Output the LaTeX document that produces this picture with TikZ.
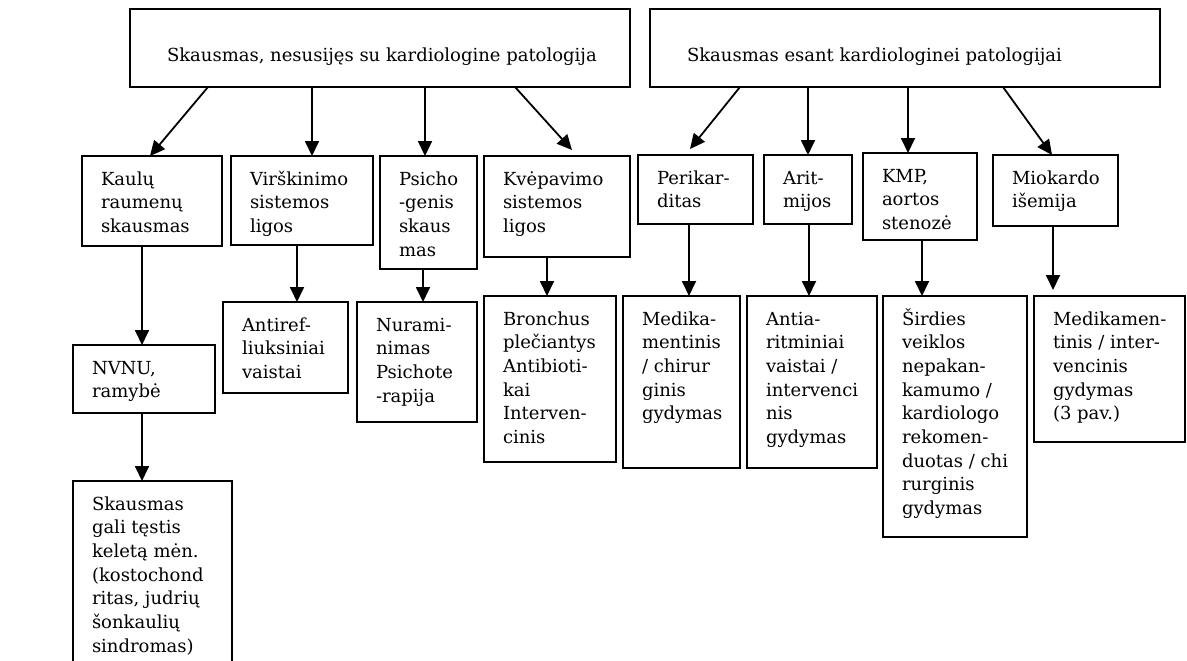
\documentclass[tikz,border=0pt]{standalone}
\usepackage{fontspec}
\setmainfont{DejaVu Serif}
\usetikzlibrary{arrows.meta}
\newcommand\bx[3]{\parbox[t][#2pt][t]{#1pt}{\raggedright\leftskip=19pt\rule{0pt}{29pt}#3}}
\newcommand\topbx[3]{\parbox[t][#2pt][t]{#1pt}{\raggedright\leftskip=37pt\rule{0pt}{53pt}#3}}
\begin{document}
\begin{tikzpicture}[x=1pt,y=-1pt,
  box/.style={draw, line width=1.8pt, inner sep=0pt, outer sep=0pt, anchor=north west,
    font=\fontsize{18}{23.7}\selectfont},
  arr/.style={line width=1.8pt, -{Triangle[length=15pt,width=14pt]}}]
\path[use as bounding box] (0,0) rectangle (1187,661);
\clip (0,0) rectangle (1187,661);
% top level
\node[box] (t1) at (130,9) {\topbx{500}{78}{Skausmas, nesusijęs su kardiologine patologija}};
\node[box] (t2) at (650,9) {\topbx{510}{78}{Skausmas esant kardiologinei patologijai}};
% second level
\node[box] (kaul) at (82,156) {\bx{140}{90}{Kaulų\\raumenų\\skausmas}};
\node[box] (virs) at (231,156) {\bx{142}{89}{Virškinimo\\sistemos\\ligos}};
\node[box] (psi) at (380,156) {\bx{97}{113}{Psicho\\-genis\\skaus\\mas}};
\node[box] (kvep) at (484,156) {\bx{146}{101}{Kvėpavimo\\sistemos\\ligos}};
\node[box] (peri) at (638,155) {\bx{115}{69}{Perikar-\\ditas}};
\node[box] (arit) at (764,155) {\bx{88}{69}{Arit-\\mijos}};
\node[box] (kmp) at (863,153) {\bx{114}{87}{KMP,\\aortos\\stenozė}};
\node[box] (miok) at (993,155) {\bx{125}{71}{Miokardo\\išemija}};
% third level
\node[box] (nvnu) at (73,345) {\bx{142}{68}{NVNU,\\ramybė}};
\node[box] (antir) at (223,302) {\bx{125}{91}{Antiref-\\liuksiniai\\vaistai}};
\node[box] (nuram) at (357,302) {\bx{120}{120}{Nurami-\\nimas\\Psichote\\-rapija}};
\node[box] (bron) at (484,296) {\bx{132}{166}{Bronchus\\plečiantys\\Antibioti-\\kai\\Interven-\\cinis}};
\node[box] (medch) at (623,296) {\bx{117}{172}{Medika-\\mentinis\\/ chirur\\ginis\\gydymas}};
\node[box] (antia) at (747,296) {\bx{130}{172}{Antia-\\ritminiai\\vaistai /\\intervenci\\nis\\gydymas}};
\node[box] (sird) at (883,296) {\bx{144}{241}{Širdies\\veiklos\\nepakan-\\kamumo /\\kardiologo\\rekomen-\\duotas / chi\\rurginis\\gydymas}};
\node[box] (medint) at (1034,296) {\bx{151}{146}{Medikamen-\\tinis / inter-\\vencinis\\gydymas\\(3 pav.)}};
% fourth level
\node[box] (skaus) at (73,481) {\bx{159}{200}{Skausmas\\gali tęstis\\keletą mėn.\\(kostochond\\ritas, judrių\\šonkaulių\\sindromas)}};
% connectors
\draw[arr] ([xshift=78pt]t1.south west) -- ([xshift=68pt]kaul.north west);
\draw[arr] ([xshift=182pt]t1.south west) -- ([xshift=81pt]virs.north west);
\draw[arr] ([xshift=295pt]t1.south west) -- ([xshift=45pt]psi.north west);
\draw[arr] ([xshift=385pt]t1.south west) -- ([xshift=88pt,yshift=6pt]kvep.north west);
\draw[arr] ([xshift=90pt]t2.south west) -- ([xshift=52pt,yshift=6pt]peri.north west);
\draw[arr] ([xshift=158pt]t2.south west) -- ([xshift=44pt]arit.north west);
\draw[arr] ([xshift=258pt]t2.south west) -- ([xshift=45pt]kmp.north west);
\draw[arr] ([xshift=353pt]t2.south west) -- ([xshift=59pt]miok.north west);
\draw[arr] ([xshift=60pt]kaul.south west) -- ([xshift=69pt]nvnu.north west);
\draw[arr] ([xshift=66pt]virs.south west) -- ([xshift=74pt]antir.north west);
\draw[arr] ([xshift=43pt]psi.south west) -- ([xshift=66pt]nuram.north west);
\draw[arr] ([xshift=63pt]kvep.south west) -- ([xshift=63pt]bron.north west);
\draw[arr] ([xshift=51pt]peri.south west) -- ([xshift=66pt]medch.north west);
\draw[arr] ([xshift=45pt]arit.south west) -- ([xshift=62pt]antia.north west);
\draw[arr] ([xshift=59pt]kmp.south west) -- ([xshift=39pt]sird.north west);
\draw[arr] ([xshift=60pt]miok.south west) -- ([xshift=19pt,yshift=6pt]medint.north west);
\draw[arr] ([xshift=69pt]nvnu.south west) -- ([xshift=69pt]skaus.north west);
\end{tikzpicture}
\end{document}
